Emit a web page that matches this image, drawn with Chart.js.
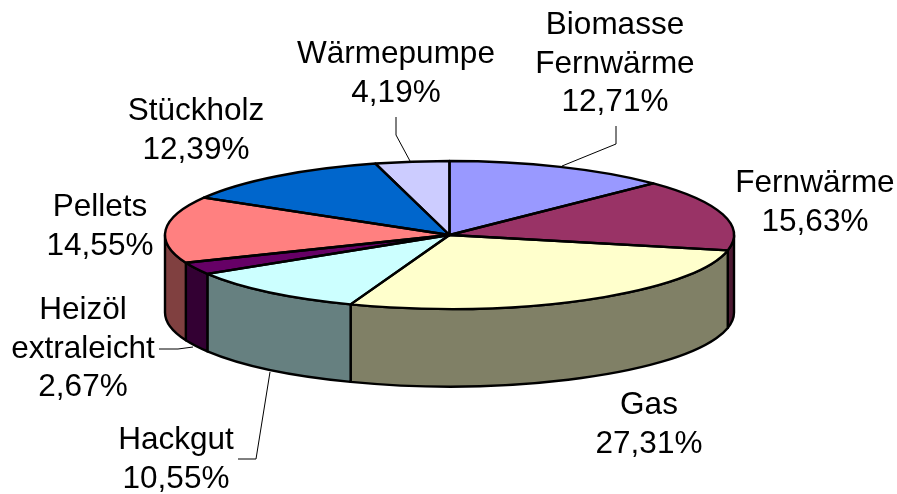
<!DOCTYPE html>
<html><head><meta charset="utf-8">
<script src="https://cdn.jsdelivr.net/npm/chart.js@4"></script>
<style>html,body{margin:0;padding:0;background:#fff}#w{width:897px;height:494px;position:relative}</style>
</head><body><div id="w"><canvas id="c"></canvas></div>
<script>
const categories = ["Biomasse Fernwärme","Fernwärme","Gas","Hackgut","Heizöl extraleicht","Pellets","Stückholz","Wärmepumpe"];
const values = [12.71,15.63,27.31,10.55,2.67,14.55,12.39,4.19];
const valueLabels = ["12,71%","15,63%","27,31%","10,55%","2,67%","14,55%","12,39%","4,19%"];
const topColors = ["#9999FF","#993366","#FFFFCC","#CCFFFF","#660066","#FF8080","#0066CC","#CCCCFF"];
const sideColors = ["#4D4D80","#4D1A33","#808066","#668080","#330033","#804040","#003366","#666680"];
const labelLines = [["Biomasse","Fernwärme"],["Fernwärme"],["Gas"],["Hackgut"],["Heizöl","extraleicht"],["Pellets"],["Stückholz"],["Wärmepumpe"]];
// centre and first baseline of each label block
const labelPlaces = [[615,34],[815,192],[649,414],[176,449],[83,319],[100,216],[196,120],[396,63]];
const leaders = [
  [[616,126],[616,144],[562,166]], null, null,
  [[238,459],[256,459],[270,372]],
  [[159,349],[178,349],[193,347]],
  null, null,
  [[396,117],[396,135],[410,161]]
];
const squash = 74/284.5, depth = 77.5, radius = 284.5, lineH = 38.5;

const pie3d = {
  id:'pie3d',
  beforeDatasetDraw(chart){
    const ctx = chart.ctx, arcs = chart.getDatasetMeta(0).data, cx = arcs[0].x, cy = arcs[0].y;
    arcs.forEach((a,i)=>{
      const p = Math.max(a.startAngle, 0), q = Math.min(a.endAngle, Math.PI);
      if (q <= p) return;
      ctx.save();
      ctx.beginPath();
      ctx.save(); ctx.translate(cx,cy); ctx.scale(1,squash);
      ctx.arc(0,0,a.outerRadius,p,q);
      ctx.restore();
      ctx.save(); ctx.translate(cx,cy+depth); ctx.scale(1,squash);
      ctx.arc(0,0,a.outerRadius,q,p,true);
      ctx.restore();
      ctx.closePath();
      ctx.fillStyle = sideColors[i]; ctx.fill();
      ctx.strokeStyle = '#000'; ctx.lineWidth = 2.4; ctx.lineJoin='round'; ctx.stroke();
      ctx.restore();
    });
    ctx.save();
    ctx.translate(cx,cy); ctx.scale(1,squash); ctx.translate(-cx,-cy);
  },
  afterDatasetDraw(chart){
    const ctx = chart.ctx, arcs = chart.getDatasetMeta(0).data;
    ctx.restore();
    const cx = arcs[0].x, cy = arcs[0].y;
    arcs.forEach(a=>{
      ctx.save();
      ctx.beginPath();
      ctx.save(); ctx.translate(cx,cy); ctx.scale(1,squash);
      ctx.moveTo(0,0); ctx.arc(0,0,a.outerRadius,a.startAngle,a.endAngle); ctx.closePath();
      ctx.restore();
      ctx.strokeStyle='#000'; ctx.lineWidth=2.4; ctx.lineJoin='round'; ctx.stroke();
      ctx.restore();
    });
  },
  afterDraw(chart){
    const ctx = chart.ctx;
    ctx.save();
    ctx.strokeStyle='#000'; ctx.lineWidth=1;
    leaders.forEach(l=>{
      if(!l) return;
      ctx.beginPath(); l.forEach((p,i)=> i?ctx.lineTo(p[0],p[1]):ctx.moveTo(p[0],p[1])); ctx.stroke();
    });
    ctx.fillStyle='#000'; ctx.textAlign='center'; ctx.textBaseline='alphabetic';
    ctx.font='31.5px "Liberation Sans", Arial, sans-serif';
    labelPlaces.forEach((p,i)=>{
      const lines = labelLines[i].concat(valueLabels[i]);
      lines.forEach((t,j)=>ctx.fillText(t,p[0],p[1]+j*lineH));
    });
    ctx.restore();
  }
};

new Chart(document.getElementById('c'),{
  type:'pie',
  data:{labels:categories,datasets:[{data:values,backgroundColor:topColors,borderWidth:0}]},
  options:{
    responsive:true,maintainAspectRatio:false,animation:false,
    radius:radius,
    layout:{padding:{left:2,right:0,top:0,bottom:24}},
    plugins:{legend:{display:false},tooltip:{enabled:false},title:{display:false}}
  },
  plugins:[pie3d]
});
</script></body></html>
